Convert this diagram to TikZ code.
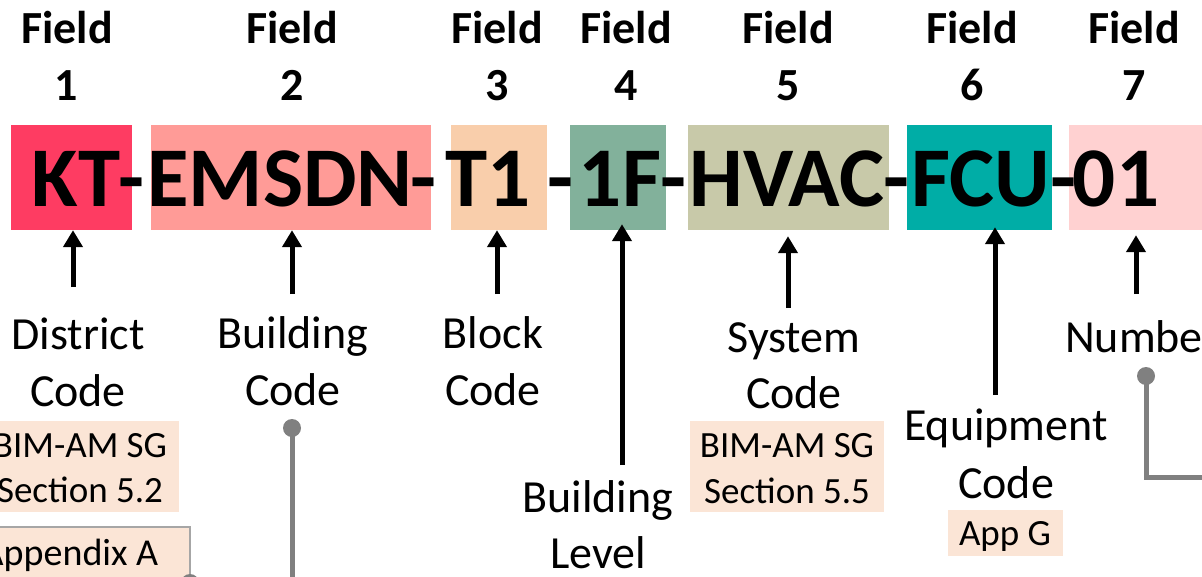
\documentclass[tikz,border=0pt]{standalone}
\usepackage{fontspec}
\setmainfont{Carlito}
\usetikzlibrary{arrows.meta}
\definecolor{cKT}{HTML}{FE3C62}
\definecolor{cEM}{HTML}{FF9B97}
\definecolor{cT}{HTML}{F9CEAB}
\definecolor{cF}{HTML}{82B19B}
\definecolor{cHV}{HTML}{C8C9A9}
\definecolor{cFCU}{HTML}{00ADA6}
\definecolor{cNum}{HTML}{FFD1D1}
\definecolor{peach}{HTML}{FBE5D6}
\definecolor{lineGray}{HTML}{808080}
\definecolor{edgeGray}{HTML}{A6A6A6}
\tikzset{
  fieldtxt/.style={inner sep=0pt, anchor=base, font=\fontsize{46}{50}\selectfont\bfseries},
  codetxt/.style={inner sep=0pt, anchor=base, font=\fontsize{85}{90}\selectfont\bfseries},
  segbox/.style={rectangle, inner sep=0pt, minimum height=105pt, fill=#1},
  lbl/.style={inner sep=0pt, anchor=base, font=\fontsize{46}{50}\selectfont},
  refbox/.style={rectangle, inner sep=0pt, fill=peach},
  reftxt/.style={inner sep=0pt, anchor=base, font=\fontsize{37}{40}\selectfont},
  arr/.style={line width=5pt, -{Triangle[width=19pt,length=17pt]}},
  gline/.style={line width=5pt, draw=lineGray},
  gdot/.style={circle, fill=lineGray, minimum size=18pt, inner sep=0pt},
}
\begin{document}
\begin{tikzpicture}[x=1pt,y=-1pt]
\useasboundingbox (0,0) rectangle (1202,576);
\clip (0,0) rectangle (1202,576);
% coloured field boxes
\node[segbox=cKT,  minimum width=121pt] (b1) at (71.5,177.5) {};
\node[segbox=cEM,  minimum width=280pt] (b2) at (291,177.5) {};
\node[segbox=cT,   minimum width=96pt]  (b3) at (499,177.5) {};
\node[segbox=cF,   minimum width=96pt]  (b4) at (618,177.5) {};
\node[segbox=cHV,  minimum width=201pt] (b5) at (788.5,177.5) {};
\node[segbox=cFCU, minimum width=145pt] (b6) at (979.5,177.5) {};
\node[segbox=cNum, minimum width=150pt] (b7) at (1144,177.5) {};
% code text
\node[codetxt] (k1) at (76,206) {KT};
\node[codetxt] (d1) at (132,206) {-};
\node[codetxt] (k2) at (280,206) {EMSDN};
\node[codetxt] (d2) at (424,206) {-};
\node[codetxt] (k3) at (488,206) {T1};
\node[codetxt] (d3) at (561,206) {-};
\node[codetxt] (k4) at (620,206) {1F};
\node[codetxt] (d4) at (674,206) {-};
\node[codetxt] (k5) at (787,206) {HVAC};
\node[codetxt] (d5) at (897,206) {-};
\node[codetxt] (k6) at (981,206) {FCU};
\node[codetxt] (d6) at (1063,206) {-};
\node[codetxt] (k7) at (1116,206) {01};
% field headings
\node[fieldtxt] (f1a) at (67,43) {Field};   \node[fieldtxt] (f1b) at (66,100) {1};
\node[fieldtxt] (f2a) at (292,43) {Field};  \node[fieldtxt] (f2b) at (292,100) {2};
\node[fieldtxt] (f3a) at (497,43) {Field};  \node[fieldtxt] (f3b) at (497,100) {3};
\node[fieldtxt] (f4a) at (626,43) {Field};  \node[fieldtxt] (f4b) at (626,100) {4};
\node[fieldtxt] (f5a) at (788,43) {Field};  \node[fieldtxt] (f5b) at (788,100) {5};
\node[fieldtxt] (f6a) at (972,43) {Field};  \node[fieldtxt] (f6b) at (972,100) {6};
\node[fieldtxt] (f7a) at (1134,43) {Field}; \node[fieldtxt] (f7b) at (1134,100) {7};
% labels
\node[lbl] (l1a) at (78,349) {District};   \node[lbl] (l1b) at (78,406) {Code};
\node[lbl] (l2a) at (293,348) {Building};  \node[lbl] (l2b) at (293,405) {Code};
\node[lbl] (l3a) at (493,348) {Block};     \node[lbl] (l3b) at (493,405) {Code};
\node[lbl] (l4a) at (598,512) {Building};  \node[lbl] (l4b) at (598,568) {Level};
\node[lbl] (l5a) at (794,352) {System};    \node[lbl] (l5b) at (794,408) {Code};
\node[lbl] (l6a) at (1006,440) {Equipment};\node[lbl] (l6b) at (1006,498) {Code};
\node[lbl, anchor=base west] (l7a) at (1065,352) {Number};
% reference boxes
\node[refbox, minimum width=196pt, minimum height=91pt] (r1) at (81,466.5) {};
\node[reftxt] (r1a) at (80,457) {BIM-AM SG};
\node[reftxt] (r1b) at (80,502) {Section 5.2};
\node[refbox, draw=edgeGray, line width=1.5pt, minimum width=250pt, minimum height=93pt] (r2) at (65,573.5) {};
\node[reftxt, font=\fontsize{38}{42}\selectfont] (r2a) at (70,565) {Appendix A};
\node[refbox, minimum width=194pt, minimum height=91pt] (r3) at (787,466.5) {};
\node[reftxt] (r3a) at (787,457) {BIM-AM SG};
\node[reftxt] (r3b) at (787,503) {Section 5.5};
\node[refbox, minimum width=115pt, minimum height=46pt] (r4) at (1005.5,533) {};
\node[reftxt] (r4a) at (1005,545) {App G};
% arrow tails
\coordinate (t1) at (73,287);
\coordinate (t2) at (292,294);
\coordinate (t3) at (497,294);
\coordinate (t4) at (622,465);
\coordinate (t5) at (788,308);
\coordinate (t6) at (995,395);
\coordinate (t7) at (1136,294);
\draw[arr] (t1) -- (t1 |- b1.south);
\draw[arr] (t2) -- (t2 |- b2.south);
\draw[arr] (t3) -- (t3 |- b3.south);
\draw[arr, shorten >=-2pt] (t4) -- ([yshift=4pt]t4 |- b4.south);
\draw[arr, shorten >=6pt] (t5) -- (t5 |- b5.south);
\draw[arr] (t6) -- ([yshift=3pt]t6 |- b6.south);
\draw[arr, shorten >=5pt] (t7) -- (t7 |- b7.south);
% grey connectors
\node[gdot] (g1) at (292,428) {};
\coordinate (g1end) at (292,600);
\draw[gline] (g1.center) -- (g1end);
\node[gdot] (g2) at (1146,376) {};
\coordinate (g2bend) at (1146,477);
\coordinate (g2end) at (1215,477);
\draw[gline] (g2.center) -- (g2bend) -- (g2end);
\node[gdot] (g3) at (190,583) {};
\end{tikzpicture}
\end{document}
